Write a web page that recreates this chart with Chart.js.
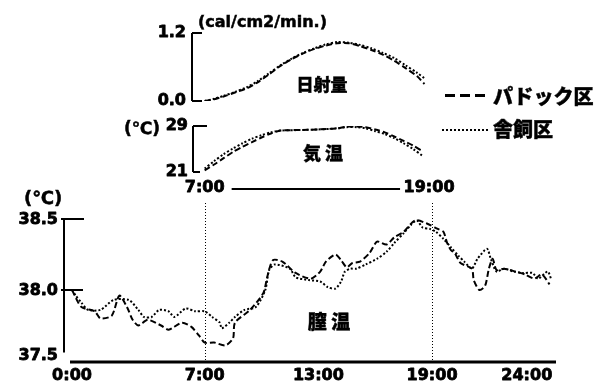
<!DOCTYPE html>
<html>
<head>
<meta charset="utf-8">
<script src="https://cdn.jsdelivr.net/npm/chart.js@4.4.1/dist/chart.umd.min.js"></script>
<style>
  body { margin: 0; background: #fff; }
  #wrap { position: relative; width: 609px; height: 385px; overflow: hidden; background: #fff; }
  canvas { position: absolute; left: 0; top: 0; }
  .t { position: absolute; white-space: nowrap; line-height: 1; color: #000; transform: translateY(-50%); }
  .num { font: bold 16px "DejaVu Sans", sans-serif; -webkit-text-stroke: 0.5px #000; }
  .jp { font-family: "Noto Sans CJK JP", sans-serif; font-weight: 900; -webkit-text-stroke: 0.4px #000; }
  .c { transform: translate(-50%, -50%); }
  .dash { position: absolute; height: 3px;
    background: repeating-linear-gradient(90deg, #000 0 10px, transparent 10px 15px); }
  .dot { position: absolute; height: 2px;
    background: repeating-linear-gradient(90deg, #000 0 2px, transparent 2px 4px); }
</style>
</head>
<body>
<div id="wrap">
  <canvas id="solar" width="609" height="385"></canvas>
  <canvas id="air" width="609" height="385"></canvas>
  <canvas id="body" width="609" height="385"></canvas>

  <div class="t num" style="left:198px;top:21px">(cal/cm2/min.)</div>
  <div class="t num" style="left:124px;top:128px;font-size:17px">(℃)</div>
  <div class="t num" style="left:24px;top:197px;font-size:18px">(℃)</div>
  <div class="t jp c" style="left:322px;top:83px;font-size:17px">日射量</div>
  <div class="t jp c" style="left:323px;top:152px;font-size:18px">気&nbsp;温</div>
  <div class="t jp c" style="left:329px;top:320px;font-size:19px">膣&nbsp;温</div>

  <div class="dash" style="left:445px;top:94px;width:43px"></div>
  <div class="t jp" style="left:493px;top:96px;font-size:20px">パドック区</div>
  <div class="dot" style="left:442px;top:129px;width:46px"></div>
  <div class="t jp" style="left:493px;top:129px;font-size:20px">舎飼区</div>
</div>

<script>
// ---- data (hour of day, value) ----
const seriesNames = ['パドック区', '舎飼区'];

const solarHours = [7.0, 7.5, 8.0, 8.6, 9.2, 9.8, 10.4, 11.0, 11.6, 12.2, 12.8, 13.4, 14.0, 14.6, 15.2, 15.8, 16.4, 17.0, 17.6, 18.2, 18.6];
const solarA = [0.0, 0.03, 0.08, 0.15, 0.22, 0.33, 0.47, 0.62, 0.74, 0.84, 0.92, 0.98, 1.02, 1.02, 0.97, 0.90, 0.82, 0.71, 0.58, 0.44, 0.30];
const solarB = [0.0, 0.04, 0.09, 0.16, 0.24, 0.35, 0.49, 0.63, 0.75, 0.85, 0.93, 1.00, 1.04, 1.03, 0.99, 0.93, 0.85, 0.76, 0.63, 0.50, 0.40];

const airHours = [7.0, 7.5, 8.0, 8.5, 9.0, 9.5, 10.0, 10.5, 11.0, 12.0, 13.0, 14.0, 14.5, 15.0, 15.5, 16.0, 16.5, 17.0, 17.5, 18.0, 18.5];
const airA = [21.3, 22.3, 23.4, 24.5, 25.4, 26.2, 27.0, 27.7, 28.2, 28.3, 28.4, 28.6, 28.9, 28.9, 28.8, 28.4, 27.9, 27.2, 26.4, 25.6, 24.6];
const airB = [21.6, 22.9, 24.1, 25.1, 26.0, 26.8, 27.4, 27.9, 28.2, 28.3, 28.4, 28.6, 28.8, 28.8, 28.6, 28.1, 27.6, 26.9, 26.0, 25.0, 23.8];

const bodyHoursA = [0.0, 0.5, 1.2, 1.5, 2.1, 2.5, 2.9, 3.2, 3.5, 4.0, 4.7, 5.1, 5.8, 6.3, 6.7, 7.0, 7.5, 8.1, 8.5, 8.6, 9.4, 10.1, 10.3, 10.6, 11.1, 11.8, 12.6, 13.1, 13.4, 13.9, 14.2, 14.5, 14.8, 15.2, 15.7, 16.1, 16.6, 17.0, 17.5, 18.1, 18.7, 19.3, 19.6, 19.8, 20.0, 20.2, 20.5, 21.1, 21.2, 21.5, 21.8, 22.0, 22.2, 22.4, 22.8, 23.4, 23.9, 24.4, 24.8, 25.2];
const bodyA = [38.00, 37.88, 37.85, 37.80, 37.82, 37.96, 37.88, 37.79, 37.75, 37.79, 37.75, 37.72, 37.77, 37.74, 37.68, 37.63, 37.63, 37.61, 37.66, 37.77, 37.86, 37.98, 38.09, 38.21, 38.20, 38.12, 38.08, 38.13, 38.20, 38.25, 38.21, 38.16, 38.19, 38.20, 38.26, 38.34, 38.32, 38.37, 38.41, 38.49, 38.47, 38.43, 38.41, 38.33, 38.28, 38.26, 38.19, 38.15, 38.07, 38.00, 38.03, 38.15, 38.22, 38.14, 38.15, 38.13, 38.11, 38.08, 38.11, 38.04];

const bodyHoursB = [0.0, 0.2, 0.5, 0.85, 1.5, 2.2, 3.0, 3.5, 3.8, 4.2, 4.6, 5.1, 5.4, 6.0, 6.5, 7.0, 7.4, 7.8, 7.9, 8.3, 8.6, 9.1, 9.7, 10.2, 10.4, 10.7, 11.5, 11.8, 12.5, 13.1, 13.5, 13.9, 14.2, 14.4, 14.7, 15.0, 15.5, 16.1, 16.6, 17.0, 17.5, 17.9, 18.2, 18.5, 18.9, 19.2, 19.6, 20.0, 20.4, 20.7, 21.1, 21.4, 21.9, 22.1, 22.4, 22.8, 23.3, 23.8, 24.3, 24.6, 25.1, 25.3];
const bodyB = [38.00, 37.96, 37.91, 37.86, 37.86, 37.93, 37.93, 37.86, 37.81, 37.81, 37.86, 37.85, 37.81, 37.87, 37.85, 37.85, 37.81, 37.77, 37.73, 37.77, 37.81, 37.86, 37.88, 38.00, 38.14, 38.18, 38.15, 38.09, 38.07, 38.06, 38.02, 38.01, 38.06, 38.13, 38.15, 38.15, 38.18, 38.22, 38.27, 38.33, 38.40, 38.46, 38.49, 38.44, 38.43, 38.41, 38.36, 38.30, 38.24, 38.20, 38.15, 38.22, 38.29, 38.22, 38.13, 38.15, 38.13, 38.12, 38.12, 38.08, 38.13, 38.07];

// tick values / labels
const solarTicks = [1.2, 0.0];
const solarTickLabels = ['1.2', '0.0'];
const airTicks = [29, 21];
const airTickLabels = ['29', '21'];
const bodyTicks = [38.5, 38.0, 37.5];
const bodyTickLabels = ['38.5', '38.0', '37.5'];
const hourTicks = [0, 7, 13, 19, 24];
const hourTickLabels = ['0:00', '7:00', '13:00', '19:00', '24:00'];
const markHours = [7, 19];

// ---- drawing ----
const W = 609, H = 385;
const NUM_FONT = 'bold 16px "DejaVu Sans", sans-serif';
const pts = (xs, ys) => xs.map((x, i) => ({ x, y: ys[i] }));

const lineSet = (label, data, dash) => ({
  label,
  data,
  borderColor: '#000',
  borderWidth: 2,
  borderDash: dash,
  pointRadius: 0,
  tension: 0.25,
  fill: false,
});

// heavy text like the scanned figure
const label = (ctx, s, x, y) => {
  ctx.strokeText(s, x, y);
  ctx.fillText(s, x, y);
};

// axis frame drawn from the chart's own scales
const frame = {
  id: 'frame',
  afterDraw(chart, args, o) {
    const { ctx, chartArea: a } = chart;
    const x = chart.scales.x;
    const y = chart.scales.y;
    ctx.save();
    ctx.strokeStyle = '#000';
    ctx.fillStyle = '#000';
    ctx.lineWidth = 2;
    ctx.beginPath();
    ctx.moveTo(a.left, y.getPixelForValue(o.yFrom));
    ctx.lineTo(a.left, y.getPixelForValue(o.yTo));
    o.ticks.forEach((v, i) => {
      const len = o.tickLen[i];
      if (!len) return;
      const py = Math.round(y.getPixelForValue(v));
      ctx.moveTo(a.left - (o.tickOut || 0), py);
      ctx.lineTo(a.left + len, py);
    });
    ctx.stroke();

    ctx.font = NUM_FONT;
    ctx.lineWidth = 0.8;
    ctx.lineJoin = 'round';
    ctx.textAlign = 'right';
    ctx.textBaseline = 'middle';
    o.ticks.forEach((v, i) => {
      label(ctx, o.labels[i], a.left - o.labelGap, y.getPixelForValue(v) + (o.labelDy ? o.labelDy[i] : 0));
    });

    if (o.hours) {
      ctx.textAlign = 'center';
      o.hours.forEach((h, i) => label(ctx, o.hourLabels[i], x.getPixelForValue(h), 376));

      // daytime bar "7:00 ---- 19:00"
      const p0 = x.getPixelForValue(o.marks[0]);
      const p1 = x.getPixelForValue(o.marks[1]);
      label(ctx, '7:00', p0, 188);
      label(ctx, '19:00', p1 - 3, 188);

      // heavy baseline
      ctx.lineWidth = 3;
      ctx.beginPath();
      ctx.moveTo(x.getPixelForValue(0) - 2, a.bottom + 1);
      ctx.lineTo(a.right, a.bottom + 1);
      ctx.stroke();

      ctx.lineWidth = 2;
      ctx.beginPath();
      ctx.moveTo(p0 + 27, 189);
      ctx.lineTo(p1 - 32, 189);
      ctx.stroke();

      // 7:00 and 19:00 guides
      ctx.lineWidth = 1;
      ctx.setLineDash([1, 2]);
      ctx.beginPath();
      o.marks.forEach(h => {
        const px = Math.round(x.getPixelForValue(h)) + 0.5;
        ctx.moveTo(px, 203);
        ctx.lineTo(px, a.bottom);
      });
      ctx.stroke();
      ctx.setLineDash([]);
    }
    ctx.restore();
  },
};

function makeChart(id, datasets, area, xr, yr, frameOpts) {
  return new Chart(document.getElementById(id), {
    type: 'line',
    data: { datasets },
    options: {
      responsive: false,
      animation: false,
      events: [],
      layout: { padding: { left: area[0], right: W - area[1], top: area[2], bottom: H - area[3] } },
      scales: {
        x: { type: 'linear', min: xr[0], max: xr[1], display: false },
        y: { type: 'linear', min: yr[0], max: yr[1], display: false },
      },
      plugins: { legend: { display: false }, tooltip: { enabled: false }, frame: frameOpts },
    },
    plugins: [frame],
  });
}

// hour -> pixel: 72 + 18.95 * h (shared by the three panels)
const pxPerHour = 18.95, hourZero = 72;
const hx = px => (px - hourZero) / pxPerHour;

makeChart('solar',
  [lineSet(seriesNames[0], pts(solarHours, solarA), [6, 3]), lineSet(seriesNames[1], pts(solarHours, solarB), [2, 2])],
  [192, 430, 33, 101], [hx(192), hx(430)], [0, 1.2],
  { yFrom: 1.2, yTo: 0, ticks: solarTicks, labels: solarTickLabels, tickLen: [10, 10], labelGap: 6 });

makeChart('air',
  [lineSet(seriesNames[0], pts(airHours, airA), [6, 3]), lineSet(seriesNames[1], pts(airHours, airB), [2, 2])],
  [193, 430, 126, 172], [hx(193), hx(430)], [21, 29],
  { yFrom: 29, yTo: 21, ticks: airTicks, labels: airTickLabels, tickLen: [14, 7], labelGap: 5 });

makeChart('body',
  [lineSet(seriesNames[0], pts(bodyHoursA, bodyA), [6, 3]), lineSet(seriesNames[1], pts(bodyHoursB, bodyB), [2, 2])],
  [64, 556, 219, 361], [hx(64), hx(556)], [37.5, 38.5],
  { yFrom: 38.5, yTo: 37.56, ticks: bodyTicks, labels: bodyTickLabels, tickLen: [20, 19, 0], tickOut: 3,
    labelGap: 6, labelDy: [1, 1, -5],
    hours: hourTicks, hourLabels: hourTickLabels, marks: markHours });
</script>
</body>
</html>
